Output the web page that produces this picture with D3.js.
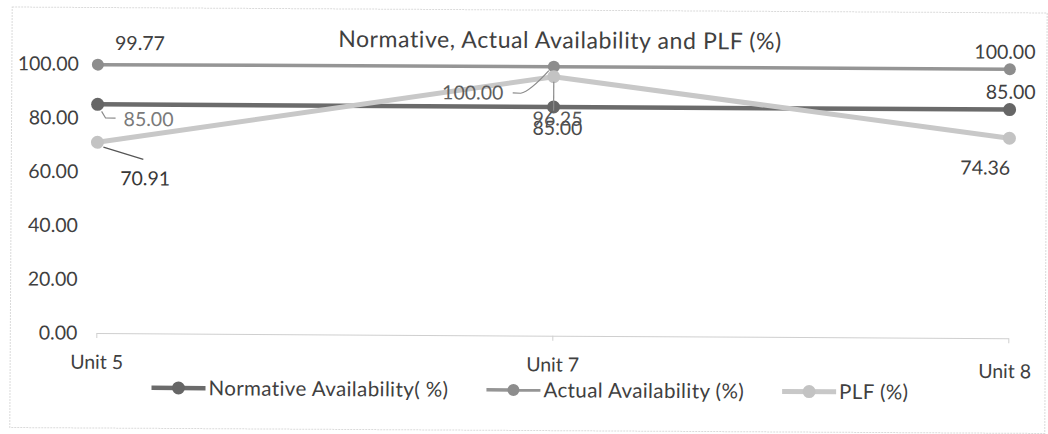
<!DOCTYPE html>
<html>
<head>
<meta charset="utf-8">
<script src="https://cdn.jsdelivr.net/npm/d3@7"></script>
<style>
  html, body { margin: 0; padding: 0; background: #ffffff; }
  svg { display: block; }
  text { font-family: Lato, "Open Sans", sans-serif; }
</style>
</head>
<body>
<svg id="chart" width="1048" height="434"></svg>
<script>
// ---- data ----
const categories = ["Unit 5", "Unit 7", "Unit 8"];
const normative = [85.00, 85.00, 85.00];
const actual = [99.77, 100.00, 100.00];
const plf = [70.91, 96.25, 74.36];
const yTicks = [0, 20, 40, 60, 80, 100];
const seriesNames = ["Normative Availability( %)", "Actual Availability (%)", "PLF (%)"];
const titleText = "Normative, Actual Availability and PLF (%)";

// ---- styles / layout ----
const fontSize = 19.5;
const styles = [
  { stroke: "#6b6b6b", width: 4.5, fill: "#666666", r: 6.5 },
  { stroke: "#959595", width: 3.5, fill: "#8d8d8d", r: 6 },
  { stroke: "#c8c8c8", width: 5,   fill: "#c3c3c3", r: 6.5 }
];
// label placement offsets relative to each point [series][category]
const labelOffsets = [
  [{dx: 51, dy: 14.6, c: "#7a7a7a"}, {dx: 4, dy: 21, c: "#4a4a4a"}, {dx: 1, dy: -17.6, c: "#404040"}],
  [{dx: 42, dy: -21.6, c: "#404040"}, {dx: -81, dy: 26.5, c: "#5e5e5e"}, {dx: -5, dy: -17.3, c: "#404040"}],
  [{dx: 48, dy: 36, c: "#383838"}, {dx: 4, dy: 42, c: "#555555"}, {dx: -24, dy: 29.7, c: "#404040"}]
];
// leader lines (relative to the point), [series][category]
const leaders = [
  [{d: "M4,7 L8,13.6 L18,13.6", c: "#8a8a8a"}, null, null],
  [null, {d: "M-41,26.5 L-33,26.8 Q-24,25 -5,4", c: "#8a8a8a"}, null],
  [{d: "M6,4.8 L46,16.8", c: "#555555"}, {d: "M0,5 L0,34", c: "#8a8a8a"}, null]
];

const svg = d3.select("#chart");
const root = svg.append("g").attr("transform", "rotate(0.33, 529, 217)");

// chart border
root.append("rect")
  .attr("x", 11).attr("y", 10).attr("width", 1035).attr("height", 420.5)
  .attr("fill", "#ffffff").attr("stroke", "#dadada").attr("stroke-width", 1)
  .attr("stroke-dasharray", "2,1");

const x = d3.scalePoint().domain(categories).range([97, 1009]);
const y = d3.scaleLinear().domain([0, 100]).range([335.5, 66.5]);

// title
root.append("text")
  .attr("x", 559).attr("y", 40)
  .attr("text-anchor", "middle").attr("dy", "0.35em")
  .attr("fill", "#404040").attr("font-size", 23).attr("letter-spacing", "0.6px")
  .text(titleText);

// y axis (labels only)
const yAxis = root.append("g").attr("transform", "translate(97,0)")
  .call(d3.axisLeft(y).tickValues(yTicks).tickFormat(d3.format(".2f")).tickSize(0).tickPadding(19));
yAxis.select(".domain").remove();
yAxis.selectAll("text").attr("font-size", fontSize).attr("fill", "#404040")
  .attr("font-family", "Lato, 'Open Sans', sans-serif");

// x axis
const xAxis = root.append("g").attr("transform", `translate(0,${y(0)})`)
  .call(d3.axisBottom(x).tickSize(5).tickSizeOuter(0).tickPadding(17));
xAxis.select(".domain").attr("stroke", "#cfcfcf");
xAxis.selectAll(".tick line").attr("stroke", "#cfcfcf");
xAxis.selectAll("text").attr("font-size", fontSize).attr("fill", "#404040")
  .attr("font-family", "Lato, 'Open Sans', sans-serif")
  .attr("transform", (d, i) => i === categories.length - 1 ? "translate(-4,4)" : null);

// series
const seriesData = [normative, actual, plf];
const line = d3.line().x((d, i) => x(categories[i])).y(d => y(d));
seriesData.forEach((vals, s) => {
  const st = styles[s];
  root.append("path").datum(vals)
    .attr("d", line).attr("fill", "none")
    .attr("stroke", st.stroke).attr("stroke-width", st.width)
    .attr("stroke-linejoin", "round").attr("stroke-linecap", "round");
  root.selectAll(null).data(vals).enter().append("circle")
    .attr("cx", (d, i) => x(categories[i])).attr("cy", d => y(d))
    .attr("r", st.r).attr("fill", st.fill);
});

// leader lines + data labels
seriesData.forEach((vals, s) => {
  vals.forEach((v, i) => {
    const px = x(categories[i]), py = y(v);
    const ld = leaders[s][i];
    if (ld) {
      root.append("path").attr("transform", `translate(${px},${py})`)
        .attr("d", ld.d).attr("fill", "none").attr("stroke", ld.c).attr("stroke-width", 1.2);
    }
  });
});
seriesData.forEach((vals, s) => {
  root.selectAll(null).data(vals).enter().append("text")
    .attr("x", (d, i) => x(categories[i]) + labelOffsets[s][i].dx)
    .attr("y", (d, i) => y(d) + labelOffsets[s][i].dy)
    .attr("dy", "0.35em").attr("text-anchor", "middle")
    .attr("font-size", fontSize)
    .attr("fill", (d, i) => labelOffsets[s][i].c)
    .text(d => d3.format(".2f")(d));
});

// legend
const legend = root.append("g");
const symW = 54, gapText = 3, itemGap = 38, legendY = 390, legendCx = 531;
const items = seriesNames.map((name, s) => {
  const g = legend.append("g");
  g.append("line").attr("x1", 0).attr("x2", symW).attr("y1", 0).attr("y2", 0)
    .attr("stroke", styles[s].stroke).attr("stroke-width", styles[s].width);
  g.append("circle").attr("cx", symW / 2).attr("cy", 0).attr("r", styles[s].r).attr("fill", styles[s].fill);
  const t = g.append("text").attr("x", symW + gapText).attr("y", 0).attr("dy", "0.35em")
    .attr("font-size", 20.5).attr("letter-spacing", "0.4px").attr("fill", "#404040").text(name);
  return { g, w: symW + gapText + t.node().getComputedTextLength() };
});
const total = d3.sum(items, d => d.w) + itemGap * (items.length - 1);
let cur = legendCx - total / 2;
items.forEach(it => {
  it.g.attr("transform", `translate(${cur},${legendY})`);
  cur += it.w + itemGap;
});
</script>
</body>
</html>
